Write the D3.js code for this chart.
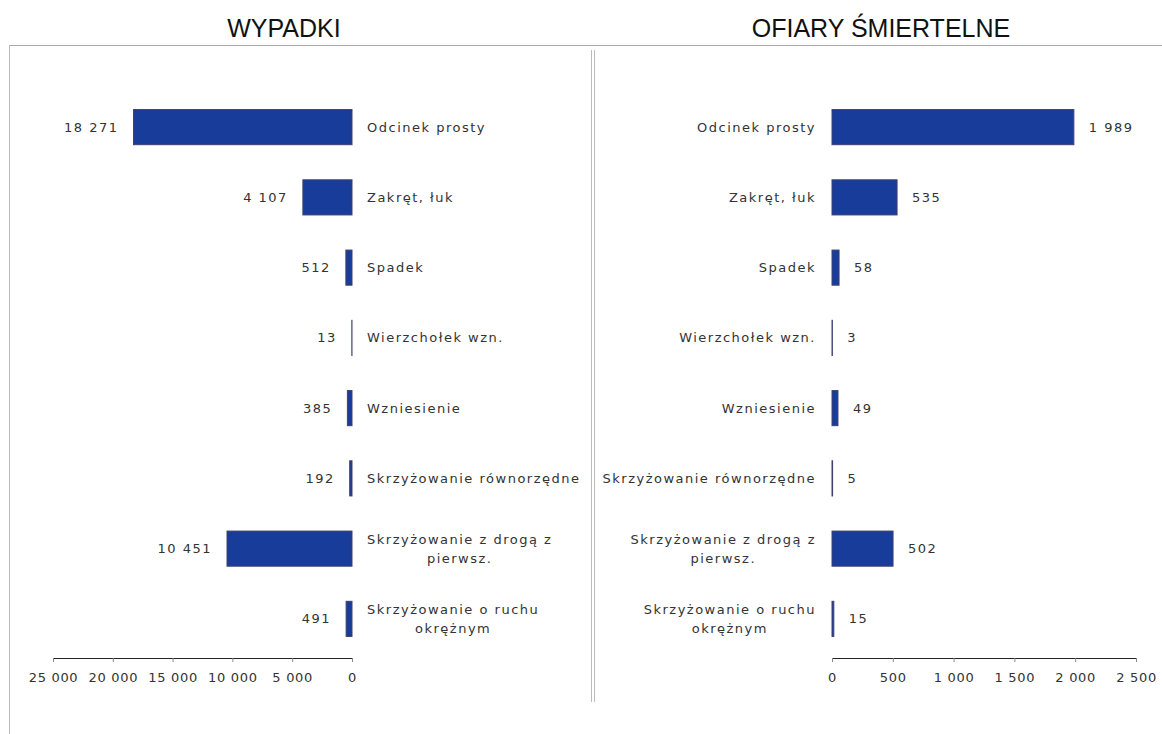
<!DOCTYPE html>
<html><head><meta charset="utf-8">
<script src="https://cdn.jsdelivr.net/npm/d3@7"></script>
<style>
body{margin:0;background:#fff;}
svg{display:block;}
</style></head>
<body>
<svg id="c" width="1162" height="734"></svg>
<script>
const categories = [
  ["Odcinek prosty"],
  ["Zakręt, łuk"],
  ["Spadek"],
  ["Wierzchołek wzn."],
  ["Wzniesienie"],
  ["Skrzyżowanie równorzędne"],
  ["Skrzyżowanie z drogą z", "pierwsz."],
  ["Skrzyżowanie o ruchu", "okrężnym"]
];
const accidents = [18271, 4107, 512, 13, 385, 192, 10451, 491];
const fatalities = [1989, 535, 58, 3, 49, 5, 502, 15];
const accidentTicks = [25000, 20000, 15000, 10000, 5000, 0];
const fatalityTicks = [0, 500, 1000, 1500, 2000, 2500];
const titles = ["WYPADKI", "OFIARY ŚMIERTELNE"];

const svg = d3.select("#c");
const fmt = d3.formatLocale({decimal: ",", thousands: " ", grouping: [3], currency: ["", ""]}).format(",d");
const FONT = "DejaVu Sans, Verdana, sans-serif";
const FS = 13, LS = 1.5;

// frame
svg.append("line").attr("x1", 9).attr("x2", 1162).attr("y1", 45.5).attr("y2", 45.5).attr("stroke", "#aaa");
svg.append("line").attr("x1", 9.5).attr("x2", 9.5).attr("y1", 45).attr("y2", 734).attr("stroke", "#bbb");
[591.5, 594.5].forEach(x => svg.append("line").attr("x1", x).attr("x2", x).attr("y1", 50).attr("y2", 702).attr("stroke", "#bbb"));

// titles
svg.append("text").attr("x", 284).attr("y", 37).attr("text-anchor", "middle")
  .attr("font-family", "Liberation Sans, Arial, sans-serif").attr("font-size", 25).attr("fill", "#111").text(titles[0]);
svg.append("text").attr("x", 881).attr("y", 37).attr("text-anchor", "middle")
  .attr("font-family", "Liberation Sans, Arial, sans-serif").attr("font-size", 25).attr("fill", "#111").text(titles[1]);

const y = d3.scaleBand().domain(d3.range(categories.length)).range([92, 654]).paddingInner(0.5).paddingOuter(0.25);

function panel(values, ticks, x, dir) {
  const g = svg.append("g");
  const zero = x(0);
  // bars
  g.selectAll("rect.bar").data(values).join("rect")
    .attr("x", d => Math.min(x(d), zero))
    .attr("y", (d, i) => y(i))
    .attr("width", d => Math.abs(x(d) - zero))
    .attr("height", y.bandwidth())
    .attr("fill", "#173c99")
    .attr("stroke", "#404070")
    .attr("stroke-width", 1);
  // value labels
  g.selectAll("text.val").data(values).join("text")
    .attr("x", d => dir < 0 ? x(d) - 15 : x(d) + 15)
    .attr("y", (d, i) => y(i) + y.bandwidth() / 2)
    .attr("dy", "0.35em")
    .attr("text-anchor", dir < 0 ? "end" : "start")
    .attr("font-family", FONT).attr("font-size", FS).attr("letter-spacing", LS)
    .attr("fill", "#333").text(d => fmt(d));
  // category labels
  categories.forEach((lines, i) => {
    const t = g.append("text")
      .attr("font-family", FONT).attr("font-size", FS).attr("letter-spacing", LS).attr("fill", "#333");
    const cy = y(i) + y.bandwidth() / 2;
    const lh = 19;
    const spans = lines.map((l, k) => t.append("tspan").text(l)
      .attr("y", cy + (k - (lines.length - 1) / 2) * lh).attr("dy", "0.35em"));
    const widths = spans.map(s => s.node().getComputedTextLength());
    const maxW = d3.max(widths);
    const left = dir < 0 ? zero + 15 : zero - 16 - maxW;
    spans.forEach((s, k) => s.attr("x", left + maxW / 2).attr("text-anchor", "middle"));
    if (lines.length === 1) {
      spans[0].attr("x", dir < 0 ? zero + 15 : zero - 16).attr("text-anchor", dir < 0 ? "start" : "end");
    }
  });
  // axis
  const ax = g.append("g").attr("transform", "translate(0,658)")
    .call(d3.axisBottom(x).tickValues(ticks).tickSize(4).tickSizeOuter(0).tickFormat(d => fmt(d)));
  ax.select(".domain").attr("stroke", "#222");
  ax.selectAll(".tick line").attr("stroke", "#888");
  ax.selectAll(".tick text").attr("font-family", FONT).attr("font-size", FS).attr("letter-spacing", 0.7)
    .attr("fill", "#333").attr("dy", "1.3em");
}

const xLeft = d3.scaleLinear().domain([0, 25000]).range([352, 53]);
const xRight = d3.scaleLinear().domain([0, 2500]).range([832, 1136]);
panel(accidents, accidentTicks, xLeft, -1);
panel(fatalities, fatalityTicks, xRight, 1);
</script>
</body></html>
